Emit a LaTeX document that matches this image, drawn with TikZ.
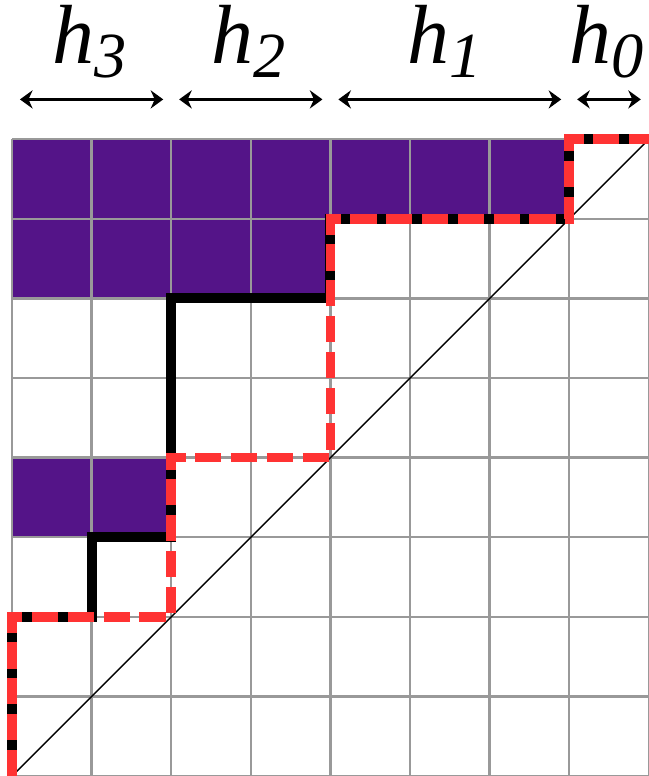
\documentclass[tikz,border=0pt]{standalone}
\usepackage{fontspec}
\setmainfont{Liberation Serif}
\usepackage{xcolor}
\usetikzlibrary{arrows.meta}

\definecolor{cellpurple}{RGB}{84,20,136}
\definecolor{pathred}{RGB}{255,51,51}
\newcommand{\hlab}[1]{\fontsize{30}{36}\selectfont\textit{h}\raisebox{-4.8pt}{\fontsize{23}{27}\selectfont\textit{#1}}}

\begin{document}
\begin{tikzpicture}[>={Stealth[length=4.5pt,width=6.5pt]},
  dimarrow/.style={<->, line width=1.3pt},
  hlabel/.style={anchor=base, inner sep=0pt}]
\useasboundingbox (-0.151,0) rectangle (8.002,9.749);

% Shaded cells above the path
\fill[cellpurple] (0,7) rectangle (7,8);
\fill[cellpurple] (0,6) rectangle (4,7);
\fill[cellpurple] (0,3) rectangle (2,4);

% Grid and diagonal
\draw[gray!80, line width=0.8pt] (0,0) grid (8,8);
\draw[line width=0.5pt] (0,0) -- (8,8);

% Solid lattice path
\draw[line width=3.6pt, miter limit=10] (0,0) |- (1,2) |- (2,3) |- (4,6) |- (7,7) |- (8,8);

% Dashed lattice path
\draw[pathred, line width=3.4pt, dash pattern=on 0.33cm off 0.12cm] (0,0) |- (2,2) |- (4,4) |- (7,7) |- (8,8);

% Widths h_3 ... h_0
\coordinate (h3w) at (0.1,8.5);
\coordinate (h3e) at (1.9,8.5);
\coordinate (h2w) at (2.1,8.5);
\coordinate (h2e) at (3.9,8.5);
\coordinate (h1w) at (4.1,8.5);
\coordinate (h1e) at (6.9,8.5);
\coordinate (h0w) at (7.1,8.5);
\coordinate (h0e) at (7.9,8.5);
\draw[dimarrow] (h3w) -- (h3e);
\draw[dimarrow] (h2w) -- (h2e);
\draw[dimarrow] (h1w) -- (h1e);
\draw[dimarrow] (h0w) -- (h0e);

\node[hlabel] (h3) at (0.97,8.95) {\hlab{3}};
\node[hlabel] (h2) at (2.97,8.95) {\hlab{2}};
\node[hlabel] (h1) at (5.44,8.95) {\hlab{1}};
\node[hlabel] (h0) at (7.47,8.95) {\hlab{0}};

\end{tikzpicture}
\end{document}
